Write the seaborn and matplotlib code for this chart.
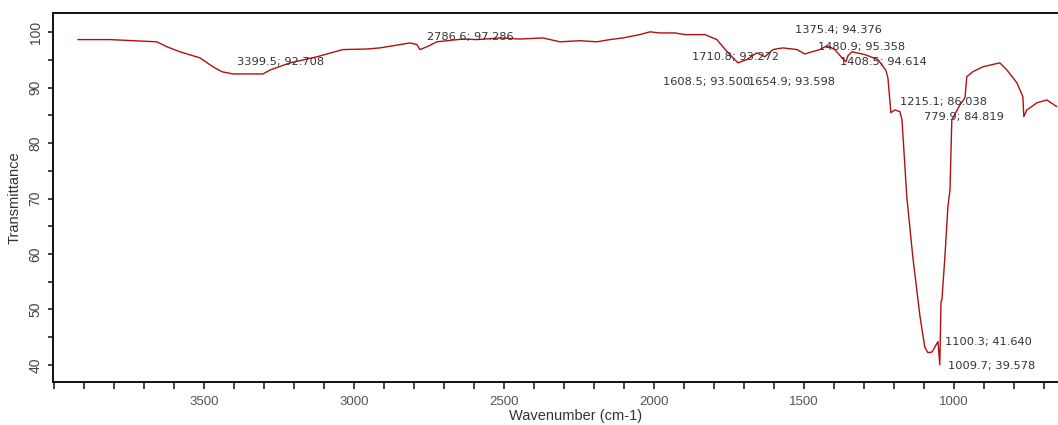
import matplotlib
matplotlib.use("Agg")
import matplotlib.pyplot as plt
from matplotlib.ticker import MultipleLocator
import seaborn as sns
import pandas as pd

# Spectrum (wavenumber cm-1, transmittance %)
wavenumber = [3920, 3813, 3657, 3623, 3580, 3513, 3470, 3440, 3403, 3353, 3303, 3280,
              3213, 3123, 3037, 2957, 2913, 2813, 2790, 2780, 2757, 2723, 2637, 2590,
              2513, 2447, 2370, 2313, 2247, 2190, 2147, 2103, 2047, 2013, 1980, 1930,
              1897, 1830, 1790, 1770, 1747, 1720, 1690, 1657, 1630, 1603, 1570, 1523,
              1497, 1473, 1447, 1423, 1397, 1373, 1360, 1353, 1340, 1297, 1253, 1227,
              1220, 1210, 1197, 1180, 1173, 1157, 1137, 1113, 1097, 1087, 1073, 1053,
              1047, 1043, 1040, 1030, 1020, 1013, 1007, 980, 963, 957, 937, 903,
              847, 823, 790, 770, 767, 757, 723, 690, 657]
transmittance = [98.7, 98.7, 98.3, 97.4, 96.5, 95.4, 93.8, 92.9, 92.5, 92.5, 92.5, 93.2,
                 94.5, 95.6, 96.9, 97.0, 97.2, 98.1, 97.8, 96.9, 97.4, 98.3, 98.8, 98.7,
                 99.0, 98.8, 99.0, 98.3, 98.5, 98.3, 98.7, 99.0, 99.6, 100.1, 99.9, 99.9,
                 99.6, 99.6, 98.7, 97.4, 96.0, 94.5, 95.1, 96.3, 95.6, 96.9, 97.2, 96.9,
                 96.1, 96.5, 96.9, 97.6, 96.9, 95.4, 94.7, 95.8, 96.5, 96.0, 95.1, 93.2,
                 91.8, 85.5, 86.0, 85.7, 84.2, 70.3, 59.5, 48.7, 43.2, 42.2, 42.3, 44.2,
                 40.0, 51.4, 51.7, 59.5, 68.5, 71.6, 84.2, 86.9, 88.2, 92.0, 92.9, 93.8,
                 94.5, 93.2, 90.9, 88.4, 84.8, 86.0, 87.3, 87.8, 86.6]

# Peak labels
peak_labels = ["3399.5; 92.708", "2786.6; 97.286", "1710.8; 93.272", "1608.5; 93.500",
               "1654.9; 93.598", "1375.4; 94.376", "1480.9; 95.358", "1408.5; 94.614",
               "1215.1; 86.038", "779.9; 84.819", "1100.3; 41.640", "1009.7; 39.578"]
label_x = [3390, 2757, 1873, 1970, 1685, 1530, 1453, 1380, 1180, 1100, 1030, 1020]
label_y = [94.7, 99.2, 95.6, 91.1, 91.1, 100.5, 97.4, 94.7, 87.5, 84.8, 44.2, 39.8]

x_ticks = [3500, 3000, 2500, 2000, 1500, 1000]
y_ticks = [40, 50, 60, 70, 80, 90, 100]

sns.set_theme(style="ticks")
plt.rcParams['font.family'] = ['Liberation Sans', 'DejaVu Sans']

df = pd.DataFrame({"w": wavenumber, "t": transmittance})

fig = plt.figure(figsize=(10.58, 4.25), dpi=100)
ax = fig.add_axes([53/1058, 1 - 382/425, 1 - 53/1058, (382 - 13)/425])

sns.lineplot(data=df, x="w", y="t", ax=ax, sort=False, estimator=None,
             color="#b01010", linewidth=1.0)

for txt, lx, ly in zip(peak_labels, label_x, label_y):
    ax.text(lx, ly, txt, fontsize=8.2, color="#333333", ha="left", va="center",
            family=["DejaVu Sans"])

ax.set_xlim(4003, 653)
ax.set_ylim(36.9, 103.5)
ax.set_xticks(x_ticks)
ax.set_xticklabels([str(v) for v in x_ticks])
ax.set_yticks(y_ticks)
ax.set_yticklabels([str(v) for v in y_ticks], rotation=90, va="center")
ax.xaxis.set_minor_locator(MultipleLocator(100))
ax.yaxis.set_minor_locator(MultipleLocator(5))

ax.tick_params(axis="x", which="both", direction="out", length=5, width=1.2,
               labelsize=9.5, labelcolor="#555555", pad=5, color="#222222")
ax.tick_params(axis="y", which="both", direction="out", length=3.5, width=1.2,
               labelsize=10, labelcolor="#444444", pad=4, color="#222222")

for side in ["left", "bottom", "top"]:
    ax.spines[side].set_linewidth(1.4)
    ax.spines[side].set_color("#111111")
ax.spines["right"].set_visible(False)

ax.set_xlabel("Wavenumber (cm-1)", fontsize=10.5, color="#333333")
ax.set_ylabel("Transmittance", fontsize=10.5, color="#333333")
ax.xaxis.set_label_coords(0.52, -0.072)
ax.yaxis.set_label_coords(-0.031, 0.5)

fig.savefig("out.png", dpi=100)
